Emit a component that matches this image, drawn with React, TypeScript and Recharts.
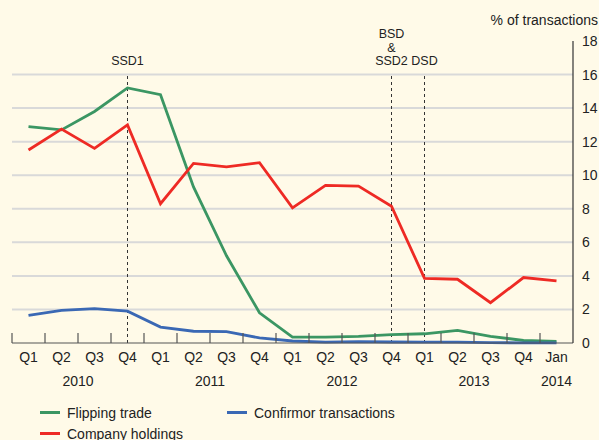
import { CartesianGrid, Legend, Line, LineChart, ReferenceLine, XAxis, YAxis } from "recharts";

const quarters = ["Q1", "Q2", "Q3", "Q4", "Q1", "Q2", "Q3", "Q4", "Q1", "Q2", "Q3", "Q4", "Q1", "Q2", "Q3", "Q4", "Jan"];
const years = [
    { at: 2, text: "2010" },
    { at: 6, text: "2011" },
    { at: 10, text: "2012" },
    { at: 14, text: "2013" },
    { at: 16.5, text: "2014" },
];
const flipping = [12.9, 12.7, 13.8, 15.2, 14.8, 9.3, 5.2, 1.8, 0.35, 0.35, 0.4, 0.5, 0.55, 0.75, 0.4, 0.15, 0.1];
const company = [11.5, 12.75, 11.6, 13.0, 8.3, 10.7, 10.5, 10.75, 8.05, 9.4, 9.35, 8.15, 3.85, 3.8, 2.4, 3.9, 3.7];
const confirmor = [1.65, 1.95, 2.05, 1.9, 0.95, 0.7, 0.68, 0.3, 0.12, 0.05, 0.08, 0.06, 0.05, 0.05, 0.02, 0.01, 0.01];
const yTicks = [0, 2, 4, 6, 8, 10, 12, 14, 16, 18];
const gridValues = [2, 4, 6, 8, 10, 12, 14, 16];
const events = [
    { at: 3, lines: ["SSD1"] },
    { at: 11, lines: ["BSD", "&", "SSD2"] },
    { at: 12, lines: ["DSD"] },
];

const series = [
    { key: "flipping", name: "Flipping trade", color: "#3b9663" },
    { key: "confirmor", name: "Confirmor transactions", color: "#3a68b4" },
    { key: "company", name: "Company holdings", color: "#ee2a24" },
];

const data = quarters.map((q, i) => ({
    x: i + 0.5,
    label: q,
    flipping: flipping[i],
    company: company[i],
    confirmor: confirmor[i],
}));

const FONT = "'Liberation Sans', Arial, sans-serif";
const W = 599;
const H = 440;
const LEFT = 12;
const AXIS_W = 26;
const BAND = (W - LEFT - AXIS_W) / quarters.length;

function QuarterTick(props: any) {
    const { x, y, payload } = props;
    const i = payload.value as number;
    return (
        <g>
            <line x1={x} y1={y} x2={x} y2={y - 10} stroke="#555" strokeWidth={1.2} />
            <text x={x + BAND / 2} y={y + 19} textAnchor="middle" fontSize={14} fill="#222" fontFamily={FONT}>
                {quarters[i]}
            </text>
            {years.filter(t => Math.floor(t.at) === i).map(t => (
                <text key={t.text} x={x + (t.at - i) * BAND} y={y + 43} textAnchor="middle" fontSize={14} fill="#222" fontFamily={FONT}>
                    {t.text}
                </text>
            ))}
        </g>
    );
}

function EventLabel(props: any, lines: string[]) {
    const { viewBox } = props;
    const cx = viewBox.x;
    const base = 65;
    return (
        <g>
            {lines.map((l, k) => (
                <text key={k} x={cx} y={base - (lines.length - 1 - k) * 13.5} textAnchor="middle" fontSize={12.5} fill="#222" fontFamily={FONT}>
                    {l}
                </text>
            ))}
        </g>
    );
}

function LegendContent() {
    return (
        <div style={{ display: "flex", flexWrap: "wrap", width: 420, fontFamily: FONT, fontSize: 14, color: "#222" }}>
            {series.map(s => (
                <div key={s.key} style={{ width: 187, height: 21, display: "flex", alignItems: "center" }}>
                    <span style={{ display: "inline-block", width: 20, height: 3, background: s.color, marginRight: 7 }} />
                    {s.name}
                </div>
            ))}
        </div>
    );
}

export default function App() {
    return (
        <div style={{ position: "absolute", left: 0, top: 0, width: W, height: H, background: "#fffae8", overflow: "hidden" }}>
            <LineChart width={W} height={H} data={data} margin={{ top: 41, right: 0, left: LEFT, bottom: 0 }}>
                <CartesianGrid vertical={false} horizontalValues={gridValues} stroke="#d9d9d9" strokeWidth={2} />
                <XAxis
                    type="number"
                    dataKey="x"
                    domain={[0, quarters.length]}
                    ticks={quarters.map((_, i) => i)}
                    interval={0}
                    height={55}
                    tickSize={0}
                    tickMargin={0}
                    tickLine={false}
                    axisLine={{ stroke: "#555", strokeWidth: 1.2 }}
                    tick={<QuarterTick />}
                />
                <YAxis
                    orientation="right"
                    width={AXIS_W}
                    domain={[0, 18]}
                    ticks={yTicks}
                    interval={0}
                    tickSize={0}
                    tickMargin={9}
                    tickLine={false}
                    axisLine={{ stroke: "#333", strokeWidth: 1.2 }}
                    tick={{ fontSize: 14, fill: "#222", fontFamily: FONT, textAnchor: "start" }}
                    label={{
                        content: () => (
                            <text x={598} y={25} textAnchor="end" fontSize={14} fill="#222" fontFamily={FONT}>
                                % of transactions
                            </text>
                        ),
                    }}
                />
                {events.map(e => (
                    <ReferenceLine
                        key={e.at}
                        segment={[{ x: e.at + 0.5, y: 0 }, { x: e.at + 0.5, y: 16 }]}
                        stroke="#333"
                        strokeDasharray="3 3"
                        strokeWidth={1}
                        label={(p: any) => EventLabel(p, e.lines)}
                    />
                ))}
                {series.map(s => (
                    <Line
                        key={s.key}
                        dataKey={s.key}
                        name={s.name}
                        stroke={s.color}
                        strokeWidth={2.8}
                        dot={false}
                        activeDot={false}
                        isAnimationActive={false}
                    />
                ))}
                <Legend
                    layout="horizontal"
                    verticalAlign="bottom"
                    align="left"
                    height={42}
                    wrapperStyle={{ top: 402, left: 40 }}
                    content={<LegendContent />}
                />
            </LineChart>
        </div>
    );
}
